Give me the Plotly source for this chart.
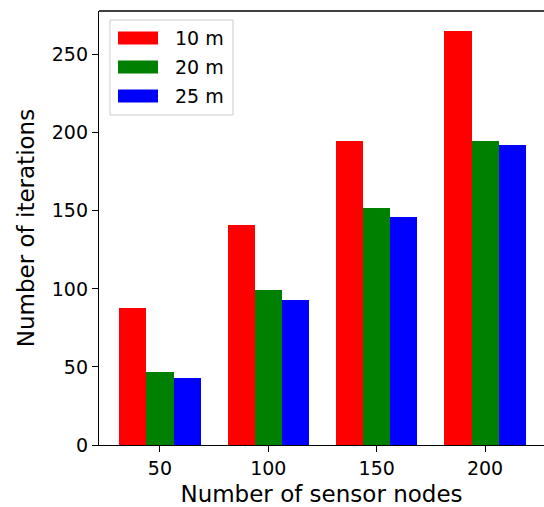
import plotly.graph_objects as go

categories = ["50", "100", "150", "200"]
series_names = ["10 m", "20 m", "25 m"]
vals_10m = [88, 141, 195, 265]
vals_20m = [47, 99, 152, 195]
vals_25m = [43, 93, 146, 192]
colors = ["#ff0000", "#008000", "#0000ff"]
y_ticks = [0, 50, 100, 150, 200, 250]

W, H = 544, 507
L, R, T, B = 99, 0, 11, 62
PW, PH = W - L - R, H - T - B

def px(x):
    return (x - L) / PW

def py(y):
    return (H - B - y) / PH

fig = go.Figure()
xs = list(range(len(categories)))
bw = 0.25
for i, (name, vals, c) in enumerate(zip(series_names, [vals_10m, vals_20m, vals_25m], colors)):
    fig.add_trace(go.Bar(
        x=[x + (i - 1) * bw for x in xs], y=vals, width=bw, name=name,
        marker=dict(color=c, line=dict(width=0)), showlegend=False))

font = "DejaVu Sans"
fig.update_layout(
    width=W, height=H, margin=dict(l=L, r=R, t=T, b=B),
    plot_bgcolor="white", paper_bgcolor="white",
    font=dict(family=font, size=19, color="black"),
    bargap=0,
    xaxis=dict(range=[-0.5625, 3.544], tickvals=xs, ticktext=categories,
               showgrid=False, zeroline=False, showline=True, linecolor="black",
               linewidth=1.3, ticks="outside", ticklen=6, tickcolor="black",
               tickfont=dict(size=19),
               title=dict(text="Number of sensor nodes", font=dict(size=23), standoff=7)),
    yaxis=dict(range=[0, 278], tickvals=y_ticks,
               showgrid=False, zeroline=False, showline=True, linecolor="black",
               linewidth=1.3, ticks="outside", ticklen=6, tickcolor="black",
               tickfont=dict(size=19),
               title=dict(text="Number of iterations", font=dict(size=23), standoff=10)),
)

# top spine
fig.add_shape(type="line", xref="paper", yref="paper", x0=0, x1=1, y0=1, y1=1,
              line=dict(color="black", width=1.3))

# legend box (matplotlib style)
x0, x1, y0, y1 = 110, 233, 20, 115
fig.add_shape(type="rect", xref="paper", yref="paper",
              x0=px(x0), x1=px(x1), y0=py(y1), y1=py(y0),
              line=dict(color="#cccccc", width=1), fillcolor="rgba(255,255,255,0.8)")
rows = [38, 67, 96]
for name, c, yc in zip(series_names, colors, rows):
    fig.add_shape(type="rect", xref="paper", yref="paper",
                  x0=px(118), x1=px(158), y0=py(yc + 6.5), y1=py(yc - 6.5),
                  line=dict(width=0), fillcolor=c)
    fig.add_annotation(xref="paper", yref="paper", x=px(173), y=py(yc),
                       text=name, showarrow=False, xanchor="left", yanchor="middle",
                       font=dict(size=19, color="black"))

fig.write_html("out.html")
